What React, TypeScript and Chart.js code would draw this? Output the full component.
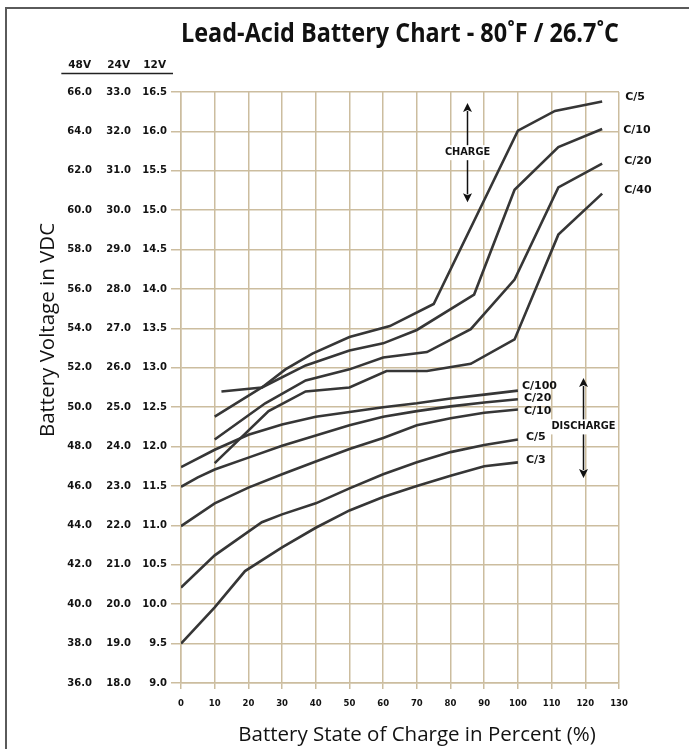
import React, { useEffect, useRef } from "react";
import { Chart, registerables } from "chart.js";

Chart.register(...registerables);

// ---------- text ----------
const TITLE = "Lead-Acid Battery Chart - 80˚F / 26.7˚C";
const X_TITLE = "Battery State of Charge in Percent (%)";
const Y_TITLE = "Battery Voltage in VDC";
const VOLT_HEADERS = ["48V", "24V", "12V"];

// ---------- axes ----------
const socMin = 0;
const socMax = 130;
const socStep = 10;
const v12Min = 9.0;
const v12Max = 16.5;
const v12Step = 0.5;
const v24Min = 18.0;
const v24Max = 33.0;
const v24Step = 1.0;
const v48Min = 36.0;
const v48Max = 66.0;
const v48Step = 2.0;

// ---------- charge curves (12V) ----------
const chargeC5Soc = [12, 24, 31, 39, 50, 62, 75, 100, 111, 125];
const chargeC5Volt = [12.70, 12.75, 12.98, 13.18, 13.39, 13.53, 13.81, 16.01, 16.26, 16.38];

const chargeC10Soc = [10, 24, 37, 50, 60, 70, 87, 99, 112, 125];
const chargeC10Volt = [12.38, 12.75, 13.03, 13.22, 13.31, 13.48, 13.93, 15.26, 15.80, 16.03];

const chargeC20Soc = [10, 25, 37, 50, 60, 73, 86, 99, 112, 125];
const chargeC20Volt = [12.09, 12.55, 12.84, 12.98, 13.13, 13.20, 13.49, 14.12, 15.29, 15.59];

const chargeC40Soc = [10, 26, 37, 50, 61, 73, 86, 99, 112, 125];
const chargeC40Volt = [11.79, 12.45, 12.70, 12.75, 12.96, 12.96, 13.05, 13.36, 14.69, 15.21];

// ---------- discharge curves (12V) ----------
const dischargeC100Soc = [0, 10, 20, 30, 40, 50, 60, 70, 80, 90, 100];
const dischargeC100Volt = [11.74, 11.96, 12.15, 12.28, 12.38, 12.44, 12.50, 12.55, 12.61, 12.66, 12.71];

const dischargeC20Soc = [0, 5, 10, 20, 30, 40, 50, 60, 70, 80, 90, 100];
const dischargeC20Volt = [11.49, 11.61, 11.71, 11.86, 12.01, 12.14, 12.27, 12.38, 12.45, 12.51, 12.56, 12.60];

const dischargeC10Soc = [0, 10, 20, 30, 40, 50, 60, 70, 80, 90, 100];
const dischargeC10Volt = [10.99, 11.28, 11.48, 11.65, 11.81, 11.97, 12.11, 12.27, 12.36, 12.43, 12.47];

const dischargeC5Soc = [0, 10, 24, 30, 40, 50, 60, 70, 80, 90, 100];
const dischargeC5Volt = [10.21, 10.62, 11.04, 11.14, 11.28, 11.47, 11.65, 11.80, 11.93, 12.02, 12.09];

const dischargeC3Soc = [0, 10, 19, 30, 40, 50, 60, 70, 80, 90, 100];
const dischargeC3Volt = [9.50, 9.96, 10.42, 10.72, 10.97, 11.19, 11.36, 11.50, 11.63, 11.75, 11.80];

// ---------- annotations (value space) ----------
const chargeArrowSoc = 85;
const chargeArrowTop = 16.36;
const chargeArrowBottom = 15.10;
const chargeTextVolt = 15.73;
const dischargeArrowSoc = 119.3;
const dischargeArrowTop = 12.87;
const dischargeArrowBottom = 11.60;
const dischargeTextVolt = 12.25;

const seriesDefs = [
  { name: "C/5", soc: chargeC5Soc, volt: chargeC5Volt },
  { name: "C/10", soc: chargeC10Soc, volt: chargeC10Volt },
  { name: "C/20", soc: chargeC20Soc, volt: chargeC20Volt },
  { name: "C/40", soc: chargeC40Soc, volt: chargeC40Volt },
  { name: "C/100", soc: dischargeC100Soc, volt: dischargeC100Volt },
  { name: "C/20", soc: dischargeC20Soc, volt: dischargeC20Volt },
  { name: "C/10", soc: dischargeC10Soc, volt: dischargeC10Volt },
  { name: "C/5", soc: dischargeC5Soc, volt: dischargeC5Volt },
  { name: "C/3", soc: dischargeC3Soc, volt: dischargeC3Volt },
];

// label offsets from each curve's last point (pixels)
const labelOffsets = [
  { dx: 23, dy: -4 },
  { dx: 21, dy: 1 },
  { dx: 22, dy: -3 },
  { dx: 22, dy: -4 },
  { dx: 4, dy: -5 },
  { dx: 6, dy: -1 },
  { dx: 6, dy: 2 },
  { dx: 8, dy: -2 },
  { dx: 8, dy: -2 },
];

// ---------- styles ----------
const GRID = "#ccbd9f";
const LINE = "#363636";
const INK = "#121212";
const SANS = "'Open Sans', 'Noto Sans', sans-serif";
const BOLD = "'DejaVu Sans', 'Noto Sans', sans-serif";

const decorPlugin = {
  id: "decor",
  afterDraw(chart: any) {
    const ctx: CanvasRenderingContext2D = chart.ctx;
    const xs = chart.scales.x;
    const ys = chart.scales.y;
    const area = chart.chartArea;
    ctx.save();

    // series labels
    ctx.fillStyle = INK;
    ctx.font = `bold 11px ${BOLD}`;
    ctx.textAlign = "left";
    ctx.textBaseline = "middle";
    seriesDefs.forEach((s, i) => {
      const meta = chart.getDatasetMeta(i);
      const pt = meta.data[meta.data.length - 1];
      const off = labelOffsets[i];
      ctx.fillText(s.name, pt.x + off.dx, pt.y + off.dy);
    });

    // arrows
    const drawArrow = (soc: number, vTop: number, vBot: number, vText: number, text: string) => {
      const x = Math.round(xs.getPixelForValue(soc)) + 0.5;
      const yt = ys.getPixelForValue(vTop);
      const yb = ys.getPixelForValue(vBot);
      const head = 9;
      const hw = 4.5;
      ctx.strokeStyle = "#111";
      ctx.fillStyle = "#111";
      ctx.lineWidth = 1.5;
      ctx.beginPath();
      ctx.moveTo(x, yt + head - 1);
      ctx.lineTo(x, yb - head + 1);
      ctx.stroke();
      ctx.beginPath();
      ctx.moveTo(x, yt);
      ctx.lineTo(x - hw, yt + head);
      ctx.lineTo(x, yt + head - 2);
      ctx.lineTo(x + hw, yt + head);
      ctx.closePath();
      ctx.fill();
      ctx.beginPath();
      ctx.moveTo(x, yb);
      ctx.lineTo(x - hw, yb - head);
      ctx.lineTo(x, yb - head + 2);
      ctx.lineTo(x + hw, yb - head);
      ctx.closePath();
      ctx.fill();
      ctx.font = `bold 9.8px ${BOLD}`;
      const ty = ys.getPixelForValue(vText);
      const w = ctx.measureText(text).width;
      ctx.fillStyle = "#fff";
      ctx.fillRect(x - w / 2 - 2, ty - 7.5, w + 4, 15);
      ctx.fillStyle = INK;
      ctx.textAlign = "center";
      ctx.textBaseline = "middle";
      ctx.fillText(text, x, ty);
    };
    drawArrow(chargeArrowSoc, chargeArrowTop, chargeArrowBottom, chargeTextVolt, "CHARGE");
    drawArrow(dischargeArrowSoc, dischargeArrowTop, dischargeArrowBottom, dischargeTextVolt, "DISCHARGE");

    // voltage headers above the three tick columns
    ctx.font = `bold 10.5px ${BOLD}`;
    ctx.font = `bold 10px ${BOLD}`;
    const colW = ctx.measureText("66.0").width;
    ctx.font = `bold 10.5px ${BOLD}`;
    const axes = [chart.scales.y48, chart.scales.y24, chart.scales.y];
    let leftMost = Infinity;
    let rightMost = -Infinity;
    ctx.fillStyle = INK;
    ctx.textAlign = "center";
    ctx.textBaseline = "middle";
    axes.forEach((sc: any, i: number) => {
      const tl = sc.options.grid.drawTicks ? sc.options.grid.tickLength : 0;
      const right = sc.right - tl - sc.options.ticks.padding;
      const left = right - colW;
      leftMost = Math.min(leftMost, left);
      rightMost = Math.max(rightMost, right);
      ctx.fillText(VOLT_HEADERS[i], (left + right) / 2, 65);
    });
    ctx.strokeStyle = "#222";
    ctx.lineWidth = 1.5;
    ctx.beginPath();
    ctx.moveTo(leftMost - 6, 73.5);
    ctx.lineTo(rightMost + 6, 73.5);
    ctx.stroke();

    // axis titles
    ctx.fillStyle = INK;
    ctx.font = `20.5px ${SANS}`;
    ctx.textAlign = "center";
    ctx.textBaseline = "alphabetic";
    ctx.fillText(X_TITLE, (area.left + area.right) / 2 + 17, 741);
    ctx.translate(54, 330);
    ctx.rotate(-Math.PI / 2);
    ctx.fillText(Y_TITLE, 0, 0);
    ctx.restore();
  },
};

export default function App() {
  const canvasRef = useRef<HTMLCanvasElement | null>(null);

  useEffect(() => {
    if (!canvasRef.current) return;
    const tickFont = { family: BOLD, size: 10, weight: "bold" as const };
    const chart = new Chart(canvasRef.current, {
      type: "line",
      data: {
        datasets: seriesDefs.map((s) => ({
          label: s.name,
          data: s.soc.map((x, i) => ({ x, y: s.volt[i] })),
          borderColor: LINE,
          borderWidth: 2.6,
          pointRadius: 0,
          tension: 0,
          fill: false,
        })),
      },
      options: {
        animation: false,
        responsive: false,
        events: [],
        layout: { padding: { left: 61, right: 70, top: 0, bottom: 36 } },
        plugins: {
          legend: { display: false },
          tooltip: { enabled: false },
          title: {
            display: true,
            text: TITLE,
            fullSize: false,
            align: "center",
            color: "#111",
            font: { family: "'Liberation Sans Narrow', 'Open Sans', sans-serif", size: 27.5, weight: "bold", lineHeight: 1.2 },
            padding: { top: 17.5, bottom: 41.5 },
          },
        },
        scales: {
          x: {
            type: "linear",
            min: socMin,
            max: socMax,
            ticks: { stepSize: socStep, font: { family: BOLD, size: 8.5, weight: "bold" }, color: INK, padding: 10, maxRotation: 0 },
            grid: { color: GRID, lineWidth: 1.5, tickLength: 6 },
            border: { color: GRID, width: 1.5 },
            afterFit: (s: any) => { s.height = 30; },
          },
          y: {
            type: "linear",
            position: "left",
            weight: 0,
            min: v12Min,
            max: v12Max,
            ticks: { stepSize: v12Step, font: tickFont, color: INK, padding: 4, autoSkip: false, callback: (v: any) => Number(v).toFixed(1) },
            grid: { color: GRID, lineWidth: 1.5, tickLength: 10 },
            border: { color: GRID, width: 1.5 },
            afterFit: (s: any) => { s.width = 40; },
          },
          y24: {
            type: "linear",
            position: "left",
            weight: 1,
            min: v24Min,
            max: v24Max,
            ticks: { stepSize: v24Step, font: tickFont, color: INK, padding: 10, autoSkip: false, callback: (v: any) => Number(v).toFixed(1) },
            grid: { display: false, drawTicks: false },
            border: { display: false },
            afterFit: (s: any) => { s.width = 40; },
          },
          y48: {
            type: "linear",
            position: "left",
            weight: 2,
            min: v48Min,
            max: v48Max,
            ticks: { stepSize: v48Step, font: tickFont, color: INK, padding: 9, autoSkip: false, callback: (v: any) => Number(v).toFixed(1) },
            grid: { display: false, drawTicks: false },
            border: { display: false },
            afterFit: (s: any) => { s.width = 40; },
          },
        },
      } as any,
      plugins: [decorPlugin],
    });
    return () => chart.destroy();
  }, []);

  return (
    <div style={{ position: "fixed", left: 0, top: 0, width: 689, height: 749, overflow: "hidden", background: "#fff" }}>
      <div
        style={{
          position: "absolute",
          left: 5,
          top: 7,
          width: 720,
          height: 780,
          borderLeft: "2px solid #5a5a5a",
          borderTop: "2px solid #5a5a5a",
          boxSizing: "border-box",
        }}
      />
      <canvas ref={canvasRef} width={689} height={749} style={{ position: "absolute", left: 0, top: 0, display: "block" }} />
    </div>
  );
}
